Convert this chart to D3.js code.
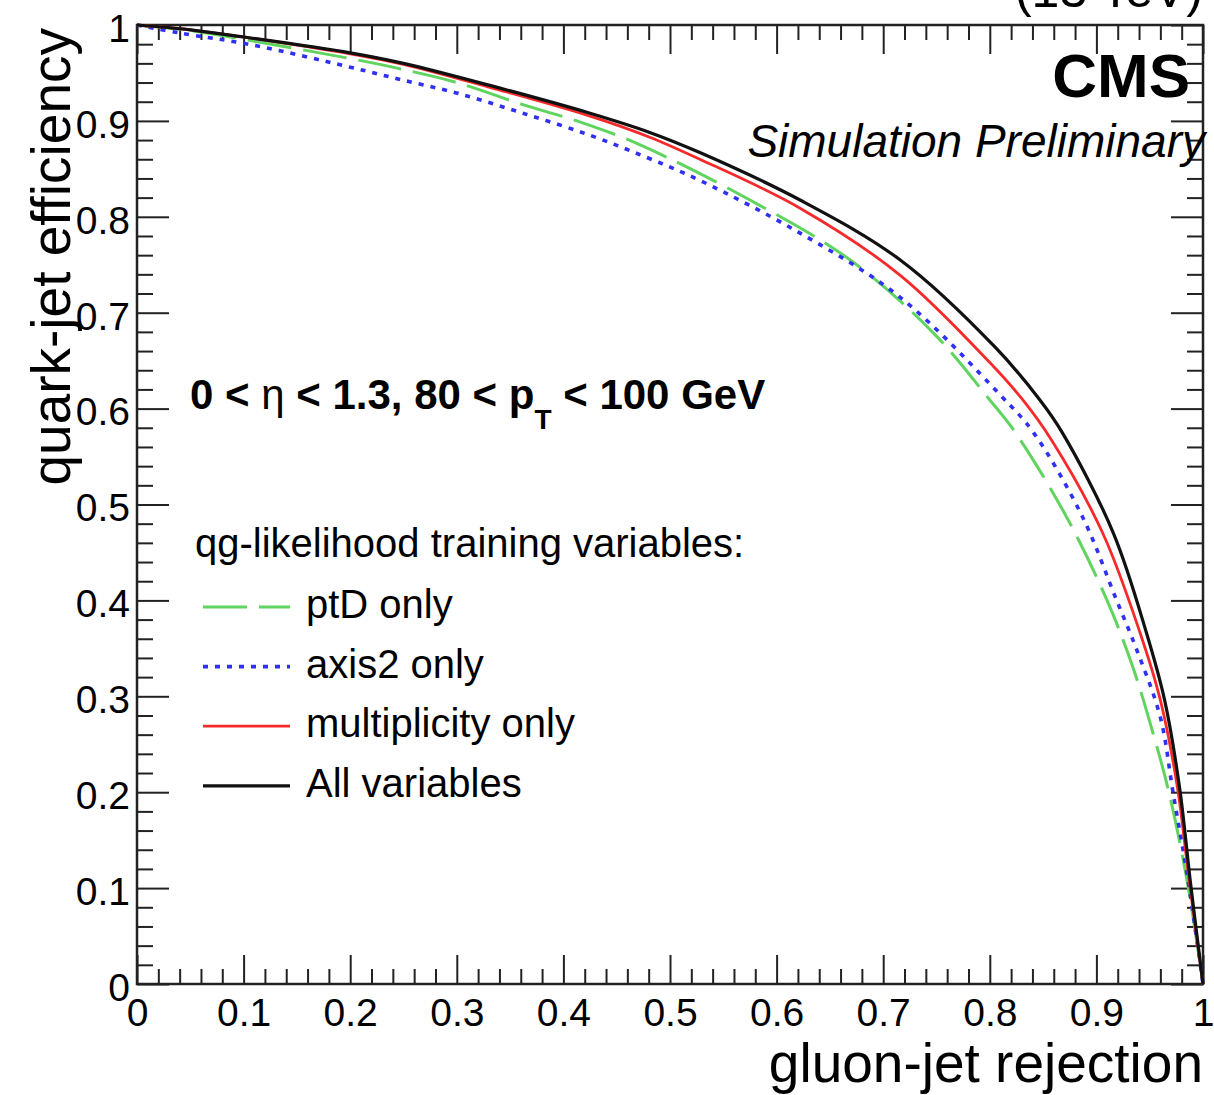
<!DOCTYPE html>
<html>
<head>
<meta charset="utf-8">
<script src="https://cdn.jsdelivr.net/npm/d3@7"></script>
<style>
  body { margin: 0; background: #fff; }
  svg { display: block; font-family: "Liberation Sans", Arial, Helvetica, sans-serif; }
  .tick line { stroke: #222; stroke-width: 2; }
  .tick text { fill: #000; }
</style>
</head>
<body>
<svg id="chart" width="1214" height="1095"></svg>
<script>
// tick marks shared by both axes
var tickValues = [0, 0.1, 0.2, 0.3, 0.4, 0.5, 0.6, 0.7, 0.8, 0.9, 1];
var tickLabels = ['0', '0.1', '0.2', '0.3', '0.4', '0.5', '0.6', '0.7', '0.8', '0.9', '1'];

// ROC curves: gluon-jet rejection (x) vs quark-jet efficiency (y)
var ptdRejection  = [0, 0.05, 0.10, 0.20, 0.244, 0.300, 0.362, 0.418, 0.472, 0.575, 0.669, 0.747, 0.800, 0.824, 0.872, 0.910, 0.934, 0.953, 0.968, 0.985, 1];
var ptdEfficiency = [1, 0.994, 0.985, 0.965, 0.955, 0.940, 0.917, 0.898, 0.875, 0.8175, 0.755, 0.679, 0.609, 0.575, 0.487, 0.400, 0.331, 0.262, 0.200, 0.108, 0];

var axis2Rejection  = [0, 0.040, 0.109, 0.200, 0.244, 0.300, 0.362, 0.425, 0.478, 0.528, 0.622, 0.716, 0.810, 0.841, 0.887, 0.919, 0.938, 0.960, 0.972, 0.986, 1];
var axis2Efficiency = [1, 0.9917, 0.979, 0.956, 0.944, 0.929, 0.908, 0.885, 0.862, 0.838, 0.783, 0.716, 0.614, 0.575, 0.487, 0.400, 0.348, 0.278, 0.199, 0.108, 0];

var multRejection  = [0, 0.05, 0.10, 0.20, 0.25, 0.331, 0.425, 0.481, 0.528, 0.622, 0.716, 0.800, 0.831, 0.858, 0.906, 0.941, 0.960, 0.976, 0.987, 1];
var multEfficiency = [1, 0.995, 0.9875, 0.970, 0.959, 0.935, 0.905, 0.883, 0.860, 0.809, 0.739, 0.648, 0.609, 0.567, 0.470, 0.366, 0.296, 0.205, 0.108, 0];

var allRejection  = [0, 0.05, 0.10, 0.20, 0.25, 0.331, 0.425, 0.481, 0.528, 0.622, 0.716, 0.805, 0.847, 0.868, 0.916, 0.947, 0.964, 0.978, 0.988, 1];
var allEfficiency = [1, 0.995, 0.9875, 0.971, 0.960, 0.937, 0.908, 0.888, 0.867, 0.8175, 0.755, 0.664, 0.609, 0.575, 0.470, 0.366, 0.296, 0.205, 0.108, 0];

var seriesNames = ['ptD only', 'axis2 only', 'multiplicity only', 'All variables'];

var series = [
  { name: seriesNames[0], x: ptdRejection, y: ptdEfficiency, color: '#5fd45f', width: 3, dash: '44,12' },
  { name: seriesNames[1], x: axis2Rejection, y: axis2Efficiency, color: '#3030f5', width: 3.6, dash: '5,7' },
  { name: seriesNames[2], x: multRejection, y: multEfficiency, color: '#f62a2a', width: 2.8, dash: null },
  { name: seriesNames[3], x: allRejection, y: allEfficiency, color: '#111', width: 3.2, dash: null }
];

var svg = d3.select('#chart');
var plotLeft = 137, plotRight = 1203, plotTop = 25, plotBottom = 984;

var x = d3.scaleLinear().domain([0, 1]).range([plotLeft, plotRight]);
var y = d3.scaleLinear().domain([0, 1]).range([plotBottom, plotTop]);

// minor ticks every 0.02 between the major ones
var minorValues = d3.range(0, 51).map(function(i) { return i / 50; })
  .filter(function(v) { return Math.abs(v * 10 - Math.round(v * 10)) > 1e-6; });

function fmt(d, i) { return tickLabels[i]; }

// bottom axis with labels
var gx = svg.append('g').attr('transform', 'translate(0,' + plotBottom + ')')
  .call(d3.axisBottom(x).tickValues(tickValues).tickFormat(fmt).tickSize(-29).tickPadding(14));
gx.selectAll('text').style('font-size', '39px');
svg.append('g').attr('transform', 'translate(0,' + plotBottom + ')')
  .call(d3.axisBottom(x).tickValues(minorValues).tickFormat('').tickSize(-15));

// top axis mirror
svg.append('g').attr('transform', 'translate(0,' + plotTop + ')')
  .call(d3.axisTop(x).tickValues(tickValues).tickFormat('').tickSize(-29));
svg.append('g').attr('transform', 'translate(0,' + plotTop + ')')
  .call(d3.axisTop(x).tickValues(minorValues).tickFormat('').tickSize(-15));

// left axis with labels
var gy = svg.append('g').attr('transform', 'translate(' + plotLeft + ',0)')
  .call(d3.axisLeft(y).tickValues(tickValues).tickFormat(fmt).tickSize(-32).tickPadding(7));
gy.selectAll('text').style('font-size', '39px').attr('dy', '0.42em');
svg.append('g').attr('transform', 'translate(' + plotLeft + ',0)')
  .call(d3.axisLeft(y).tickValues(minorValues).tickFormat('').tickSize(-16));

// right axis mirror
svg.append('g').attr('transform', 'translate(' + plotRight + ',0)')
  .call(d3.axisRight(y).tickValues(tickValues).tickFormat('').tickSize(-32));
svg.append('g').attr('transform', 'translate(' + plotRight + ',0)')
  .call(d3.axisRight(y).tickValues(minorValues).tickFormat('').tickSize(-16));

svg.selectAll('.domain').remove();

// frame
svg.append('rect')
  .attr('x', plotLeft).attr('y', plotTop)
  .attr('width', plotRight - plotLeft).attr('height', plotBottom - plotTop)
  .attr('fill', 'none').attr('stroke', '#222').attr('stroke-width', 2.5);

// curves
var line = d3.line()
  .x(function(d) { return x(d[0]); })
  .y(function(d) { return y(d[1]); })
  .curve(d3.curveCatmullRom.alpha(0.5));

series.forEach(function(s) {
  var pts = s.x.map(function(v, i) { return [v, s.y[i]]; });
  svg.append('path')
    .datum(pts)
    .attr('d', line)
    .attr('fill', 'none')
    .attr('stroke', s.color)
    .attr('stroke-width', s.width)
    .attr('stroke-dasharray', s.dash);
});

// axis titles
svg.append('text')
  .attr('x', plotRight).attr('y', 1082)
  .attr('text-anchor', 'end')
  .style('font-size', '55px')
  .text('gluon-jet rejection');

svg.append('text')
  .attr('transform', 'translate(70,28) rotate(-90)')
  .attr('text-anchor', 'end')
  .style('font-size', '55px')
  .text('quark-jet efficiency');

// CMS labels
svg.append('text')
  .attr('x', 1190).attr('y', 97)
  .attr('text-anchor', 'end')
  .style('font-size', '62px').style('font-weight', 'bold')
  .text('CMS');

svg.append('text')
  .attr('x', 1205).attr('y', 157)
  .attr('text-anchor', 'end')
  .style('font-size', '46px').style('font-style', 'italic')
  .text('Simulation Preliminary');

// energy label, cut off at the top edge
svg.append('text')
  .attr('x', 1203).attr('y', 7)
  .attr('text-anchor', 'end')
  .style('font-size', '50px')
  .text('(13 TeV)');

// kinematic region
var cond = svg.append('text')
  .attr('x', 190).attr('y', 409)
  .style('font-size', '42px').style('font-weight', 'bold');
cond.append('tspan').text('0 < ');
cond.append('tspan').style('font-weight', 'normal').text('η');
cond.append('tspan').text(' < 1.3, 80 < p');
cond.append('tspan').attr('dy', 20).style('font-size', '28px').text('T');
cond.append('tspan').attr('dy', -20).text(' < 100 GeV');

// legend
var legend = svg.append('g');
legend.append('text')
  .attr('x', 195).attr('y', 557)
  .style('font-size', '40px')
  .text('qg-likelihood training variables:');

series.forEach(function(s, i) {
  var base = 618 + i * 59.6;
  legend.append('line')
    .attr('x1', 203).attr('x2', 290)
    .attr('y1', base - 11).attr('y2', base - 11)
    .attr('stroke', s.color)
    .attr('stroke-width', s.width)
    .attr('stroke-dasharray', s.dash);
  legend.append('text')
    .attr('x', 306).attr('y', base)
    .style('font-size', '40px')
    .text(s.name);
});
</script>
</body>
</html>
